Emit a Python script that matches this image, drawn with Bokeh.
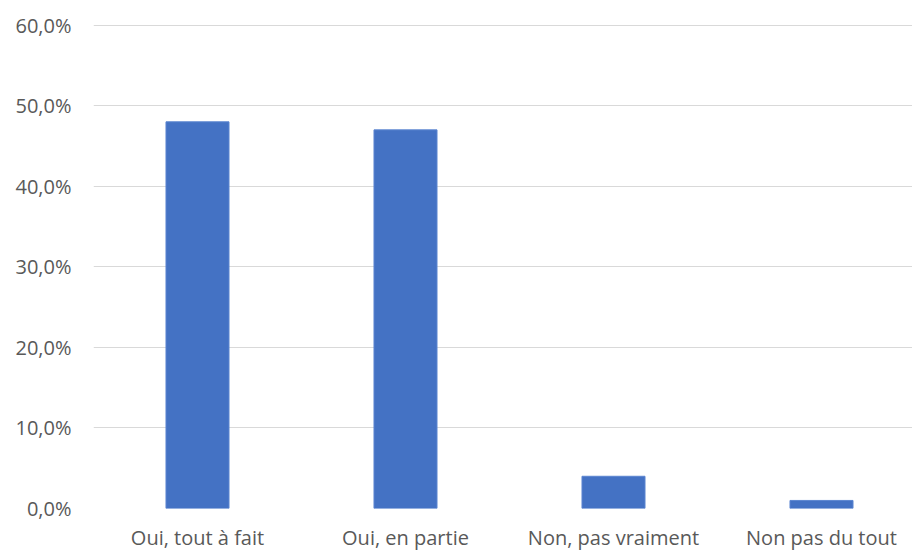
from bokeh.plotting import figure
from bokeh.models import ColumnDataSource, Range1d, FixedTicker
from bokeh.embed import file_html
from bokeh.resources import INLINE

categories = ["Oui, tout à fait", "Oui, en partie", "Non, pas vraiment", "Non pas du tout"]
values = [48.0, 47.0, 4.0, 1.0]
y_ticks = [0, 10, 20, 30, 40, 50, 60]
y_tick_labels = ["0,0%", "10,0%", "20,0%", "30,0%", "40,0%", "50,0%", "60,0%"]

W, H = 912, 553
LEFT, TOP, BOTTOM = 93, 24, 43
xpos = [i + 0.5 for i in range(len(categories))]
src = ColumnDataSource(dict(x=xpos, top=values))

p = figure(width=W, height=H, output_backend="svg", toolbar_location=None,
           x_range=Range1d(0, (W - LEFT) / 208.0), y_range=Range1d(0, 60.08),
           min_border_left=LEFT, min_border_right=0, min_border_top=TOP, min_border_bottom=BOTTOM)
p.outline_line_color = None
p.background_fill_color = "white"
p.border_fill_color = "white"

p.vbar(x="x", top="top", bottom=0, width=0.303, source=src,
       fill_color="#4472C4", line_color="#5B85D0", line_width=1)

p.xgrid.grid_line_color = None
p.ygrid.grid_line_color = "#D9D9D9"
p.ygrid.grid_line_width = 1

p.yaxis.ticker = FixedTicker(ticks=y_ticks)
p.yaxis.major_label_overrides = {t: l for t, l in zip(y_ticks, y_tick_labels)}
p.xaxis.ticker = FixedTicker(ticks=xpos)
p.xaxis.major_label_overrides = {x: c for x, c in zip(xpos, categories)}

for ax in (p.xaxis[0], p.yaxis[0]):
    ax.axis_line_color = None
    ax.major_tick_line_color = None
    ax.minor_tick_line_color = None
    ax.major_tick_out = 0
    ax.major_tick_in = 0
    ax.major_label_text_font = "Open Sans"
    ax.major_label_text_font_size = "20px"
    ax.major_label_text_color = "#595959"
p.yaxis.major_label_standoff = 22
p.xaxis.major_label_standoff = 15

open("out.html", "w").write(file_html(p, INLINE))
